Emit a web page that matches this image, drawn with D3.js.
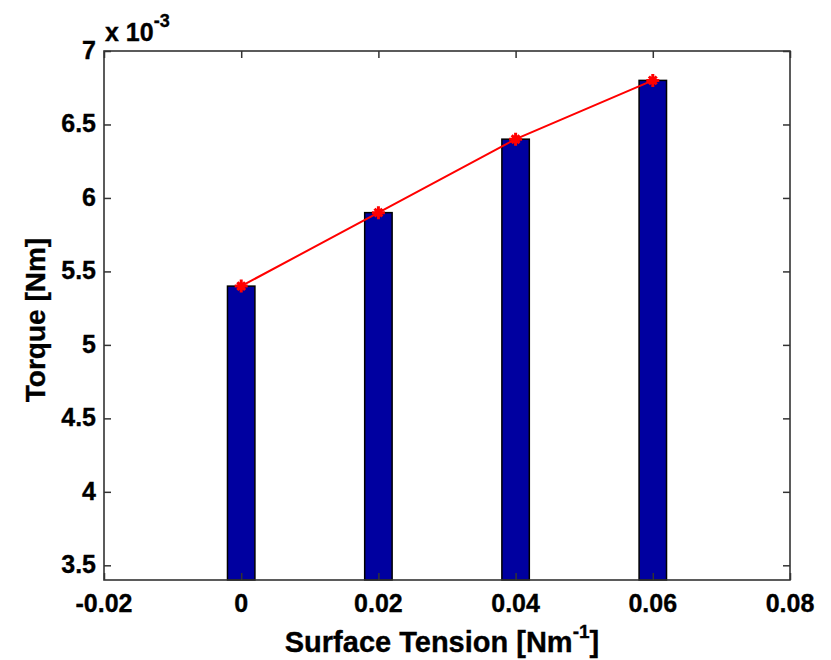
<!DOCTYPE html>
<html>
<head>
<meta charset="utf-8">
<script src="https://cdn.jsdelivr.net/npm/d3@7"></script>
<style>
  body { margin: 0; background: #fff; }
  svg { display: block; }
  text { font-family: "Liberation Sans", Arial, sans-serif; font-weight: bold; fill: #000; stroke: #000; stroke-width: 0.35px; }
</style>
</head>
<body>
<div id="chart"></div>
<script>
// ---- data ----
const surfaceTension = [0, 0.02, 0.04, 0.06];
const torqueBars = [5.4e-3, 5.9e-3, 6.4e-3, 6.8e-3];
const torqueLine = [5.4e-3, 5.9e-3, 6.4e-3, 6.8e-3];
const xTicks = [-0.02, 0, 0.02, 0.04, 0.06, 0.08];
const yTicks = [3.5e-3, 4e-3, 4.5e-3, 5e-3, 5.5e-3, 6e-3, 6.5e-3, 7e-3];
const xTickLabels = ["-0.02", "0", "0.02", "0.04", "0.06", "0.08"];
const yTickLabels = ["3.5", "4", "4.5", "5", "5.5", "6", "6.5", "7"];
const barWidthData = 0.004;

const W = 831, H = 660;
const m = { left: 104, top: 51, right: 790, bottom: 580 };

const svg = d3.select("#chart").append("svg").attr("width", W).attr("height", H);

const x = d3.scaleLinear().domain([-0.02, 0.08]).range([m.left, m.right]);
const y = d3.scaleLinear().domain([3.4e-3, 7e-3]).range([m.bottom, m.top]);

// bars
svg.append("g").selectAll("rect").data(surfaceTension).enter().append("rect")
  .attr("x", d => x(d - barWidthData / 2))
  .attr("width", d => x(d + barWidthData / 2) - x(d - barWidthData / 2))
  .attr("y", (d, i) => y(torqueBars[i]))
  .attr("height", (d, i) => y.range()[0] - y(torqueBars[i]))
  .attr("fill", "#0000a0")
  .attr("stroke", "#000")
  .attr("stroke-width", 1.5);

// frame
const frameColor = "#333";
svg.append("rect")
  .attr("x", m.left).attr("y", m.top)
  .attr("width", m.right - m.left).attr("height", m.bottom - m.top)
  .attr("fill", "none").attr("stroke", frameColor).attr("stroke-width", 1.6);

const tl = 7;
const xAxisB = d3.axisBottom(x).tickValues(xTicks).tickSize(-tl).tickFormat("");
const xAxisT = d3.axisTop(x).tickValues(xTicks).tickSize(-tl).tickFormat("");
const yAxisL = d3.axisLeft(y).tickValues(yTicks).tickSize(-tl).tickFormat("");
const yAxisR = d3.axisRight(y).tickValues(yTicks).tickSize(-tl).tickFormat("");
function styleAxis(g) {
  g.select(".domain").remove();
  g.selectAll(".tick line").attr("stroke", frameColor).attr("stroke-width", 1.5);
}
svg.append("g").attr("transform", `translate(0,${m.bottom})`).call(xAxisB).call(styleAxis);
svg.append("g").attr("transform", `translate(0,${m.top})`).call(xAxisT).call(styleAxis);
svg.append("g").attr("transform", `translate(${m.left},0)`).call(yAxisL).call(styleAxis);
svg.append("g").attr("transform", `translate(${m.right},0)`).call(yAxisR).call(styleAxis);

// tick labels
const fs = 25;
svg.append("g").selectAll("text").data(xTicks).enter().append("text")
  .attr("x", d => x(d)).attr("y", 612)
  .attr("text-anchor", "middle").attr("font-size", fs)
  .text((d, i) => xTickLabels[i]);
svg.append("g").selectAll("text").data(yTicks).enter().append("text")
  .attr("x", 96).attr("y", d => y(d) + 8)
  .attr("text-anchor", "end").attr("font-size", fs)
  .text((d, i) => yTickLabels[i]);

// exponent
const ex = svg.append("text").attr("x", 105).attr("y", 41).attr("font-size", fs);
ex.append("tspan").text("x 10");
ex.append("tspan").attr("dy", -14).attr("font-size", 18).text("-3");

// line + asterisk markers
const line = d3.line().x((d, i) => x(surfaceTension[i])).y(d => y(d));
svg.append("path").datum(torqueLine)
  .attr("d", line).attr("fill", "none").attr("stroke", "#ff0000").attr("stroke-width", 2);
const ms = 6.5;
const mk = svg.append("g").selectAll("g").data(torqueLine).enter().append("g")
  .attr("transform", (d, i) => `translate(${x(surfaceTension[i])},${y(d)})`);
mk.append("path")
  .attr("d", `M${-ms},0L${ms},0M0,${-ms}L0,${ms}M${-ms*0.6},${-ms*0.6}L${ms*0.6},${ms*0.6}M${-ms*0.6},${ms*0.6}L${ms*0.6},${-ms*0.6}`)
  .attr("stroke", "#ff0000").attr("stroke-width", 3).attr("fill", "none");

// axis titles
const xt = svg.append("text").attr("x", 442).attr("y", 652)
  .attr("text-anchor", "middle").attr("font-size", 29);
xt.append("tspan").text("Surface Tension [Nm");
xt.append("tspan").attr("dy", -14).attr("font-size", 19).text("-1");
xt.append("tspan").attr("dy", 14).text("]");

svg.append("text")
  .attr("transform", `translate(45,320) rotate(-90)`)
  .attr("text-anchor", "middle").attr("font-size", 28)
  .text("Torque [Nm]");
</script>
</body>
</html>
